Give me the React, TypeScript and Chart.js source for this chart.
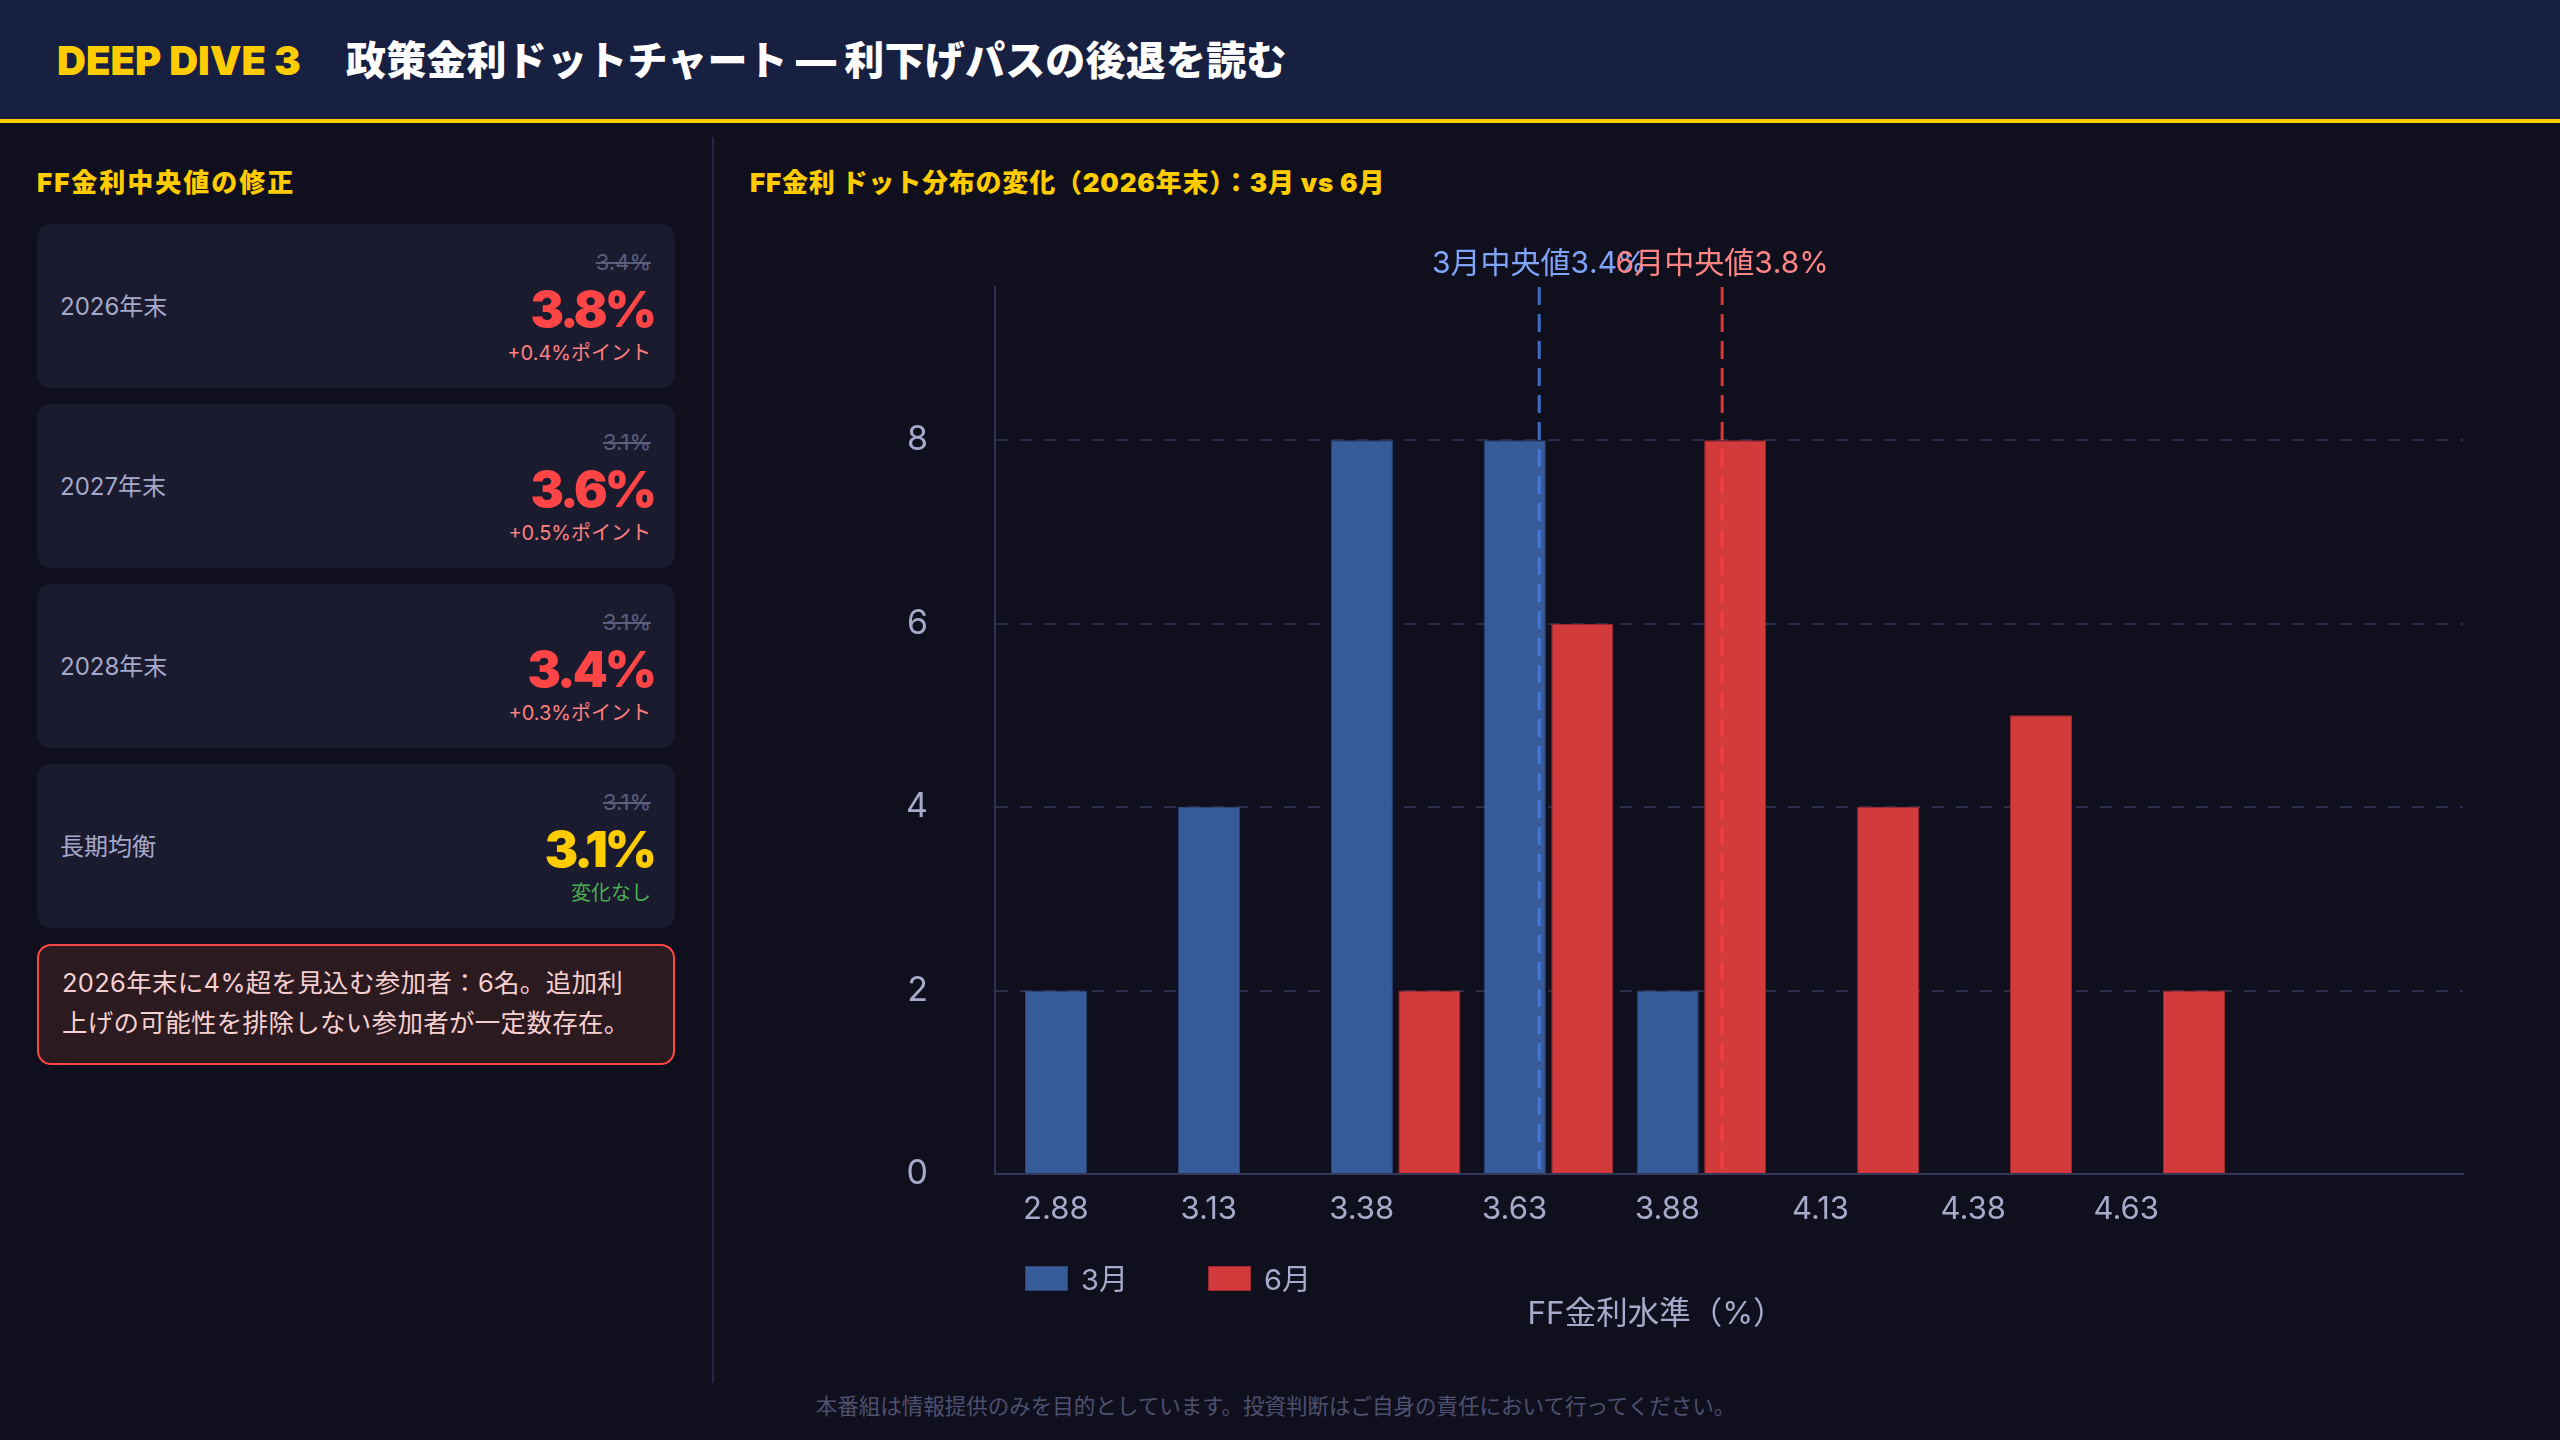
import React, { useEffect, useRef } from 'react';
import { Chart, registerables } from 'chart.js';

Chart.register(...registerables);

// ---- data ----
const rateLevels = [2.875, 3.125, 3.375, 3.625, 3.875, 4.125, 4.375, 4.625];
const rateTickLabels = ['2.88', '3.13', '3.38', '3.63', '3.88', '4.13', '4.38', '4.63'];
const seriesNames = ['3月', '6月'];
const marchDots = [2, 4, 8, 8, 2, 0, 0, 0];
const juneDots = [0, 0, 2, 6, 8, 4, 5, 2];
const yTickValues = [0, 2, 4, 6, 8];
const medianValues = [3.4, 3.8];
const medianLabels = ['3月中央値3.4%', '6月中央値3.8%'];
const xAxisTitle = 'FF金利水準（%）';

const cardLabels = ['2026年末', '2027年末', '2028年末', '長期均衡'];
const previousMedians = ['3.4%', '3.1%', '3.1%', '3.1%'];
const currentMedians = ['3.8%', '3.6%', '3.4%', '3.1%'];
const changeNotes = ['+0.4%ポイント', '+0.5%ポイント', '+0.3%ポイント', '変化なし'];

// ---- styles ----
const JP = 'Inter, "Noto Sans CJK JP", "Noto Sans", sans-serif';
const NUM = 'Inter, "Noto Sans", sans-serif';
const BG = '#0f0f1d';
const YELLOW = '#ffcc00';
const TICK = '#a8aacb';
const BLUE = '#375a99';
const RED = '#d33a3c';
const medianLineColors = ['rgba(70,125,225,0.85)', 'rgba(255,62,62,0.85)'];
const medianTextColors = ['#7fa5fb', '#ff8585'];

const medianPlugin = {
  id: 'medianLines',
  afterDatasetsDraw(chart: any) {
    const { ctx, chartArea } = chart;
    const scale = chart.scales.xMed;
    medianValues.forEach((v, i) => {
      const x = scale.getPixelForValue(v);
      ctx.save();
      ctx.strokeStyle = medianLineColors[i];
      ctx.lineWidth = 3;
      ctx.setLineDash([18, 9]);
      ctx.beginPath();
      ctx.moveTo(x, chartArea.top);
      ctx.lineTo(x, chartArea.bottom);
      ctx.stroke();
      ctx.setLineDash([]);
      ctx.fillStyle = medianTextColors[i];
      ctx.font = `30px ${JP}`;
      ctx.textAlign = 'center';
      ctx.textBaseline = 'middle';
      ctx.fillText(medianLabels[i], x, chartArea.top - 23);
      ctx.restore();
    });
  },
};

function abs(left: number, top: number, extra: React.CSSProperties = {}): React.CSSProperties {
  return { position: 'absolute', left, top, whiteSpace: 'nowrap', ...extra };
}

export default function App() {
  const canvasRef = useRef<HTMLCanvasElement>(null);

  useEffect(() => {
    const toPoints = (vals: number[]) =>
      rateLevels.map((x, i) => ({ x, y: vals[i] })).filter((p) => p.y > 0);

    const chart = new Chart(canvasRef.current as HTMLCanvasElement, {
      type: 'bar',
      data: {
        datasets: [
          {
            label: seriesNames[0],
            data: toPoints(marchDots),
            backgroundColor: BLUE,
            borderColor: '#2c4677',
            borderWidth: 1,
            categoryPercentage: 0.883,
            barPercentage: 0.92,
          },
          {
            label: seriesNames[1],
            data: toPoints(juneDots),
            backgroundColor: RED,
            borderColor: '#9e2a2e',
            borderWidth: 1,
            categoryPercentage: 0.883,
            barPercentage: 0.92,
          },
        ],
      },
      options: {
        responsive: false,
        animation: false,
        layout: { padding: { left: 150, right: 60, top: 72, bottom: 0 } },
        plugins: {
          legend: { display: false },
          title: { display: false },
          tooltip: { enabled: false },
        },
        scales: {
          x: {
            type: 'linear',
            offset: false,
            min: 2.72,
            max: 5.12,
            afterBuildTicks: (s: any) => {
              s.ticks = rateLevels.map((v) => ({ value: v }));
            },
            afterFit: (s: any) => {
              s.height = 181;
            },
            grid: { display: false, drawTicks: false, offset: false },
            border: { display: true, color: '#34365a', width: 2 },
            ticks: {
              color: TICK,
              font: { family: JP, size: 31 },
              padding: 17,
              labelOffset: -34,
              maxRotation: 0,
              autoSkip: false,
              callback: (_v: any, i: number) => rateTickLabels[i],
            },
          },
          xMed: {
            type: 'linear',
            axis: 'x',
            position: 'bottom',
            display: false,
            offset: false,
            min: 2.21,
            max: 5.42,
          },
          y: {
            min: 0,
            max: 9.67,
            afterBuildTicks: (s: any) => {
              s.ticks = yTickValues.map((v) => ({ value: v }));
            },
            afterFit: (s: any) => {
              s.width = 95;
            },
            grid: {
              drawTicks: true,
              tickLength: 60,
              tickColor: 'rgba(0,0,0,0)',
              lineWidth: 2,
              color: (c: any) => (c.tick && c.tick.value === 0 ? 'rgba(0,0,0,0)' : '#2c2d4b'),
            },
            border: { display: true, color: '#2f3053', width: 2, dash: [12, 12] },
            ticks: {
              color: TICK,
              font: { family: JP, size: 34 },
              padding: 7,
            },
          },
        },
      } as any,
      plugins: [medianPlugin],
    });
    return () => chart.destroy();
  }, []);

  return (
    <div
      style={{
        position: 'fixed',
        left: 0,
        top: 0,
        width: 2560,
        height: 1440,
        background: BG,
        overflow: 'hidden',
        fontFamily: JP,
      }}
    >
      {/* header */}
      <div
        style={{
          position: 'absolute',
          left: 0,
          top: 0,
          width: 2560,
          height: 119,
          background: '#172040',
          borderBottom: `4px solid ${YELLOW}`,
        }}
      />
      <div style={abs(57, 41, { fontSize: 40, lineHeight: '40px', fontWeight: 900, color: YELLOW })}>
        DEEP DIVE 3
      </div>
      <div style={abs(346, 41, { fontSize: 40, lineHeight: '40px', fontWeight: 900, color: '#ffffff', letterSpacing: 0.2 })}>
        政策金利ドットチャート — 利下げパスの後退を読む
      </div>

      {/* left panel */}
      <div style={abs(37, 170, { fontSize: 26, lineHeight: '26px', fontWeight: 900, color: YELLOW, letterSpacing: 2 })}>
        FF金利中央値の修正
      </div>
      {cardLabels.map((lab, i) => {
        const isFlat = i === 3;
        return (
          <div
            key={lab}
            style={{
              position: 'absolute',
              left: 37,
              top: 224 + i * 180,
              width: 638,
              height: 164,
              background: '#1a1b2f',
              borderRadius: 14,
            }}
          >
            <div style={abs(23, 71, { fontSize: 24, lineHeight: '24px', color: '#a6a8cb' })}>{lab}</div>
            <div
              style={{
                position: 'absolute',
                right: 24,
                top: 26.5,
                fontSize: 22,
                lineHeight: '22px',
                color: '#5c5e7e',
                textDecoration: 'line-through',
                whiteSpace: 'nowrap',
              }}
            >
              {previousMedians[i]}
            </div>
            <div
              style={{
                position: 'absolute',
                right: 21,
                top: 59.5,
                fontSize: 50,
                lineHeight: '50px',
                fontFamily: NUM,
                fontWeight: 900,
                color: isFlat ? YELLOW : '#ff4545',
                letterSpacing: -3,
                whiteSpace: 'nowrap',
              }}
            >
              {currentMedians[i]}
            </div>
            <div
              style={{
                position: 'absolute',
                right: 24,
                top: 118.5,
                fontSize: 20,
                lineHeight: '20px',
                color: isFlat ? '#4caf50' : '#ff8080',
                whiteSpace: 'nowrap',
              }}
            >
              {changeNotes[i]}
            </div>
          </div>
        );
      })}
      <div
        style={{
          position: 'absolute',
          left: 37,
          top: 944,
          width: 638,
          height: 121,
          boxSizing: 'border-box',
          border: '2px solid #ff4444',
          borderRadius: 14,
          background: '#2b1a1f',
        }}
      />
      <div style={abs(62, 963, { fontSize: 25.5, lineHeight: '40px', color: '#f6d0d1', letterSpacing: 0.3 })}>
        2026年末に4%超を見込む参加者：6名。追加利
        <br />
        上げの可能性を排除しない参加者が一定数存在。
      </div>

      {/* divider */}
      <div style={{ position: 'absolute', left: 712, top: 137, width: 2, height: 1246, background: '#25263f' }} />

      {/* right panel */}
      <div style={abs(750, 170, { fontSize: 26, lineHeight: '26px', fontWeight: 900, color: YELLOW, letterSpacing: 0.8 })}>
        FF金利 ドット分布の変化（2026年末）：3月 vs 6月
      </div>
      <canvas
        ref={canvasRef}
        width={1773}
        height={1140}
        style={{ position: 'absolute', left: 750, top: 215, width: 1773, height: 1140 }}
      />
      {/* legend */}
      <div style={{ position: 'absolute', left: 1025, top: 1266, width: 43, height: 25, boxSizing: 'border-box', background: BLUE, border: '1px solid #2c4677' }} />
      <div style={abs(1081, 1265, { fontSize: 29, lineHeight: '29px', color: TICK })}>{seriesNames[0]}</div>
      <div style={{ position: 'absolute', left: 1208, top: 1266, width: 43, height: 25, boxSizing: 'border-box', background: RED, border: '1px solid #9e2a2e' }} />
      <div style={abs(1264, 1265, { fontSize: 29, lineHeight: '29px', color: TICK })}>{seriesNames[1]}</div>
      {/* axis title */}
      <div style={{ position: 'absolute', left: 1456, top: 1297, width: 400, textAlign: 'center', fontSize: 31.5, lineHeight: '31.5px', color: TICK, whiteSpace: 'nowrap' }}>
        {xAxisTitle}
      </div>

      {/* footer */}
      <div style={{ position: 'absolute', left: 0, top: 1396, width: 2551, textAlign: 'center', fontSize: 21.5, lineHeight: '21.5px', color: '#4f5170', whiteSpace: 'nowrap' }}>
        本番組は情報提供のみを目的としています。投資判断はご自身の責任において行ってください。
      </div>
    </div>
  );
}
